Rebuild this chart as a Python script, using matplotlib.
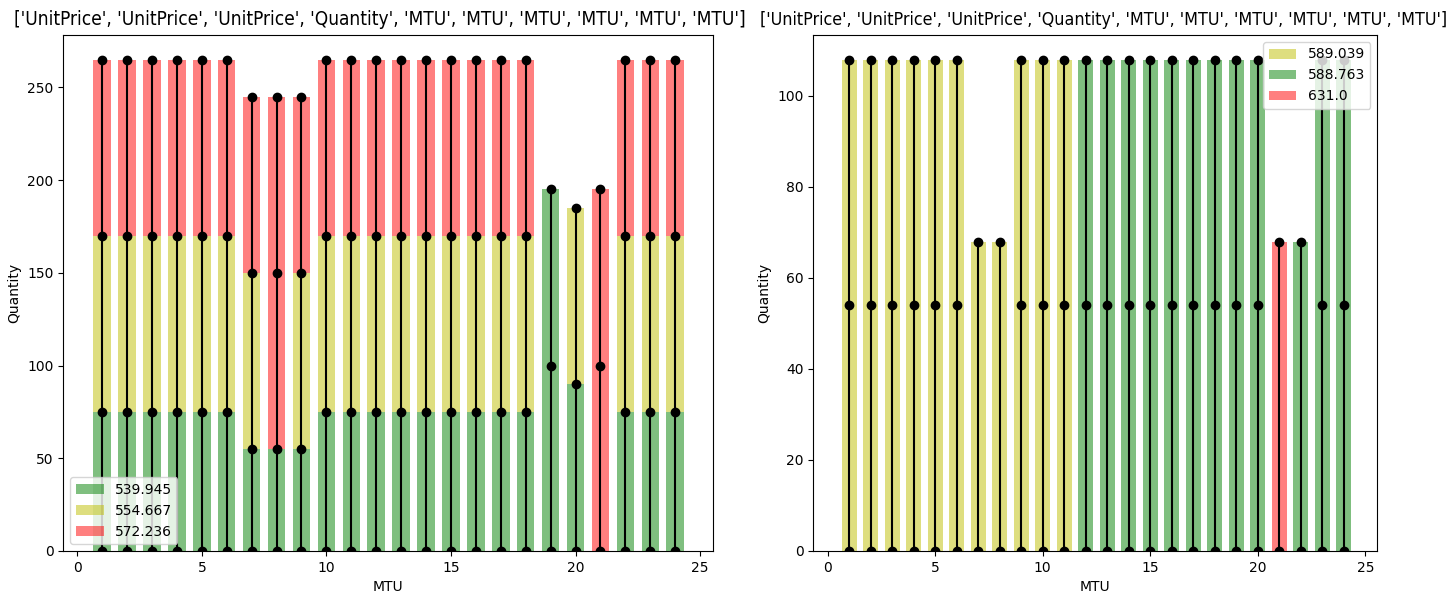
import numpy as np
import matplotlib.pyplot as plt

mtu = np.arange(1, 25)
titulo = str(['UnitPrice', 'UnitPrice', 'UnitPrice', 'Quantity', 'MTU', 'MTU', 'MTU', 'MTU', 'MTU', 'MTU'])

colores = {
    '539.945': 'g', '554.667': 'y', '572.236': 'r',
    '589.039': 'y', '588.763': 'g', '631.0': 'r',
}
leyenda_izq = ['539.945', '554.667', '572.236']
leyenda_der = ['589.039', '588.763', '631.0']

# left panel: three stacked blocks per MTU
izq_q1 = [75]*6 + [55]*3 + [75]*9 + [100, 90, 100] + [75]*3
izq_p1 = ['539.945']*20 + ['572.236'] + ['539.945']*3
izq_q2 = [95]*24
izq_p2 = (['554.667']*7 + ['572.236'] + ['554.667']*10 + ['539.945', '554.667', '572.236']
          + ['554.667']*3)
izq_q3 = [95]*18 + [0]*3 + [95]*3
izq_p3 = ['572.236']*24

# right panel: two stacked blocks per MTU
der_q1 = [54]*6 + [68]*2 + [54]*12 + [68]*2 + [54]*2
der_p1 = ['589.039']*11 + ['588.763']*9 + ['631.0'] + ['588.763']*3
der_q2 = [54]*6 + [0]*2 + [54]*12 + [0]*2 + [54]*2
der_p2 = der_p1


def dibujar(ax, cantidades, precios, orden_leyenda):
    base = np.zeros(len(mtu))
    tops = [base.copy()]
    handles = {}
    for q, p in zip(cantidades, precios):
        q = np.array(q, dtype=float)
        p = np.array(p)
        for precio in dict.fromkeys(p[q > 0]):
            m = (p == precio) & (q > 0)
            b = ax.bar(mtu[m], q[m], bottom=base[m], width=0.7,
                       color=colores[precio], alpha=0.5)
            handles.setdefault(precio, b)
        base = base + q
        tops.append(np.where(q > 0, base, np.nan))
    for i, x in enumerate(mtu):
        ys = [t[i] for t in tops if not np.isnan(t[i])]
        ax.plot([x]*len(ys), ys, 'o-', color='k')
    return [handles[k] for k in orden_leyenda], orden_leyenda


fig, axs = plt.subplots(1, 2, figsize=(14.5, 5.92), dpi=100)

h, l = dibujar(axs[0], [izq_q1, izq_q2, izq_q3], [izq_p1, izq_p2, izq_p3], leyenda_izq)
axs[0].legend(h, l, loc='lower left')
h, l = dibujar(axs[1], [der_q1, der_q2], [der_p1, der_p2], leyenda_der)
axs[1].legend(h, l, loc='upper right')

for ax in axs:
    ax.set_xlabel('MTU')
    ax.set_ylabel('Quantity')

axs[0].set_xlim(-0.56, 25.53)
axs[1].set_xlim(-0.67, 25.56)

axs[0].set_title(titulo, fontsize=13.7, fontstretch='condensed', x=0.487, pad=7.5)
axs[1].set_title(titulo, fontsize=12.8, fontstretch='condensed', x=0.514, pad=7.5)

axs[0].set_position([63.3/1450, 1-551/592, 650/1450, 516/592])
axs[1].set_position([813.3/1450, 1-551/592, 564/1450, 516/592])

fig.savefig('out.png')
